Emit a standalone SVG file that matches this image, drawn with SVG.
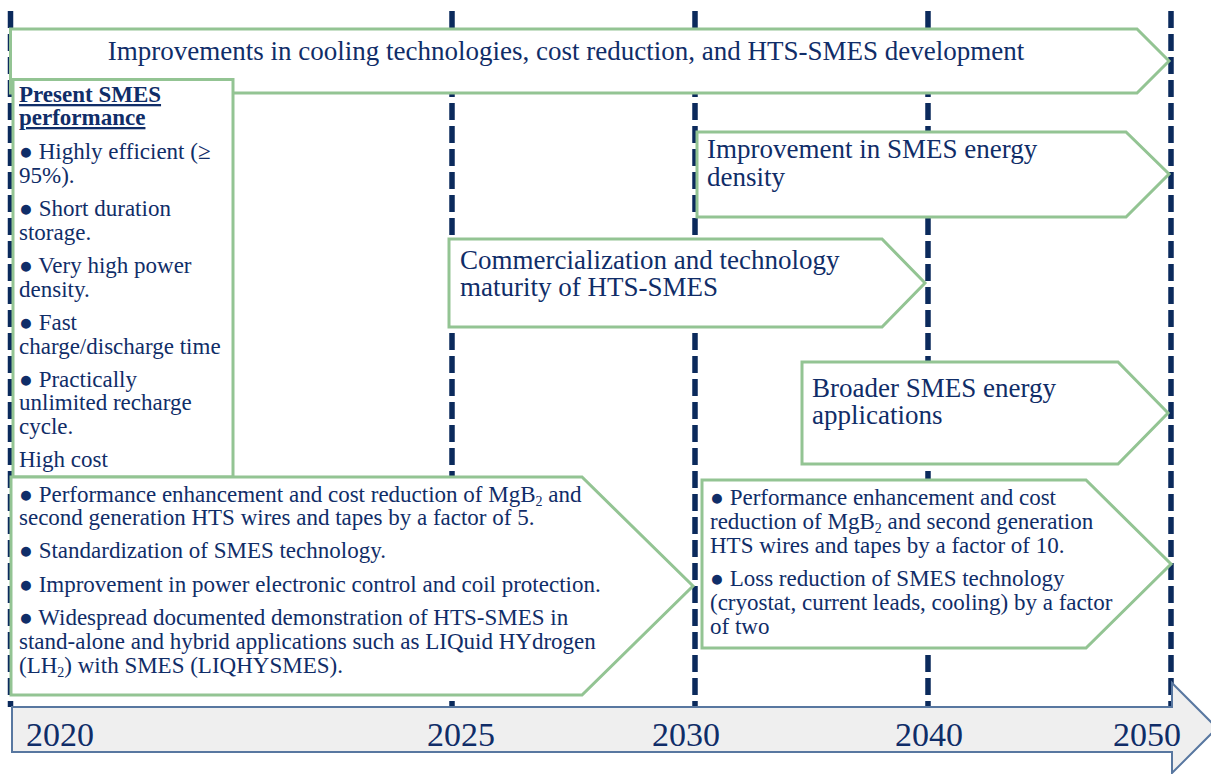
<svg xmlns="http://www.w3.org/2000/svg" width="1211" height="774" viewBox="0 0 1211 774">
<style>
text{font-family:"Liberation Serif","Times New Roman",serif;fill:#102d68}
.big{font-size:27px}
.body{font-size:23px}
.hd{font-size:23px;font-weight:bold;text-decoration:underline}
.yr{font-size:34px}
.box{fill:#ffffff;stroke:#93c493;stroke-width:3;stroke-linejoin:miter}
.dash{stroke:#0b2a5c;stroke-width:5.5;stroke-dasharray:17 6;fill:none}
.sub{font-size:14px}
</style>
<rect x="0" y="0" width="1211" height="774" fill="#ffffff"/>
<g id="connectors">
<line class="dash" x1="10.5" y1="11" x2="10.5" y2="707"/>
<line class="dash" x1="452" y1="11" x2="452" y2="707"/>
<line class="dash" x1="695" y1="11" x2="695" y2="707"/>
<line class="dash" x1="928" y1="11" x2="928" y2="707"/>
<line class="dash" x1="1171" y1="11" x2="1171" y2="707"/>
</g>
<g id="timeline">
<polygon points="12,707 1172,707 1172,683 1217,728 1172,773 1172,752 12,752" fill="#efefef" stroke="#5877a0" stroke-width="2"/>
<text class="yr" x="26" y="746">2020</text>
<text class="yr" x="427" y="746">2025</text>
<text class="yr" x="652" y="746">2030</text>
<text class="yr" x="895" y="746">2040</text>
<text class="yr" x="1113" y="746">2050</text>
</g>
<g id="banner">
<polygon class="box" points="10.5,29 1137,29 1169,61 1137,93 10.5,93"/>
<text class="big" x="566" y="60" text-anchor="middle">Improvements in cooling technologies, cost reduction, and HTS-SMES development</text>
</g>
<g id="present">
<rect class="box" x="13" y="79.5" width="220" height="397.5"/>
<text class="hd" x="19" y="102">Present SMES</text>
<text class="hd" x="19" y="125">performance</text>
<text class="body" x="19" y="159">● Highly efficient (≥</text>
<text class="body" x="19" y="183">95%).</text>
<text class="body" x="19" y="216">● Short duration</text>
<text class="body" x="19" y="240">storage.</text>
<text class="body" x="19" y="273">● Very high power</text>
<text class="body" x="19" y="297">density.</text>
<text class="body" x="19" y="330">● Fast</text>
<text class="body" x="19" y="354">charge/discharge time</text>
<text class="body" x="19" y="387">● Practically</text>
<text class="body" x="19" y="410">unlimited recharge</text>
<text class="body" x="19" y="434">cycle.</text>
<text class="body" x="19" y="467">High cost</text>
</g>
<g id="energy-density">
<polygon class="box" points="697,132 1126,132 1169,174 1126,217 697,217"/>
<text class="big" x="707" y="158">Improvement in SMES energy</text>
<text class="big" x="707" y="186">density</text>
</g>
<g id="commercialization">
<polygon class="box" points="449,239 882,239 925,283 882,327 449,327"/>
<text class="big" x="460" y="269">Commercialization and technology</text>
<text class="big" x="460" y="296">maturity of HTS-SMES</text>
</g>
<g id="broader">
<polygon class="box" points="802,362 1118,362 1168,413 1118,464 802,464"/>
<text class="big" x="812" y="397">Broader SMES energy</text>
<text class="big" x="812" y="424">applications</text>
</g>
<g id="phase-2025">
<polygon class="box" points="11,477 582,477 693,586 582,695 11,695"/>
<text class="body" x="19" y="502">● Performance enhancement and cost reduction of MgB<tspan class="sub" dy="4">2</tspan><tspan dy="-4"> and</tspan></text>
<text class="body" x="19" y="525">second generation HTS wires and tapes by a factor of 5.</text>
<text class="body" x="19" y="558">● Standardization of SMES technology.</text>
<text class="body" x="19" y="592">● Improvement in power electronic control and coil protection.</text>
<text class="body" x="19" y="625">● Widespread documented demonstration of HTS-SMES in</text>
<text class="body" x="19" y="649">stand-alone and hybrid applications such as LIQuid HYdrogen</text>
<text class="body" x="19" y="673">(LH<tspan class="sub" dy="4">2</tspan><tspan dy="-4">) with SMES (LIQHYSMES).</tspan></text>
</g>
<g id="phase-2040">
<polygon class="box" points="702,480 1086,480 1171,564 1086,648 702,648"/>
<text class="body" x="710" y="505">● Performance enhancement and cost</text>
<text class="body" x="710" y="529">reduction of MgB<tspan class="sub" dy="4">2</tspan><tspan dy="-4"> and second generation</tspan></text>
<text class="body" x="710" y="553">HTS wires and tapes by a factor of 10.</text>
<text class="body" x="710" y="586">● Loss reduction of SMES technology</text>
<text class="body" x="710" y="610">(cryostat, current leads, cooling) by a factor</text>
<text class="body" x="710" y="634">of two</text>
</g>
</svg>
